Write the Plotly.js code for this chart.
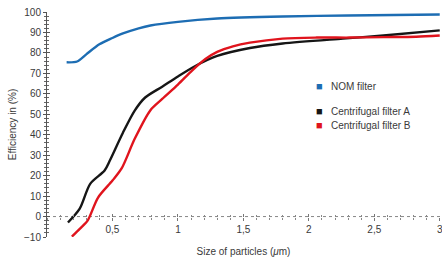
<!DOCTYPE html>
<html>
<head>
<meta charset="utf-8">
<script src="https://cdn.plot.ly/plotly-3.0.1.min.js"></script>
<style>html,body{margin:0;padding:0;background:#fff;}#chart{width:442px;height:261px;}</style>
</head>
<body>
<div id="chart"></div>
<script>
// Data
const seriesNames = ["NOM filter", "Centrifugal filter A", "Centrifugal filter B"];
const seriesColors = ["#1d6db3", "#161616", "#e0141d"];

const nomX = [0.15, 0.23, 0.30, 0.40, 0.50, 0.58, 0.70, 0.79, 1.00, 1.30, 1.80, 2.30, 3.00];
const nomY = [75.4, 75.8, 79.3, 84.2, 87.3, 89.5, 92.0, 93.4, 95.2, 96.8, 97.8, 98.3, 98.8];

const aX = [0.16, 0.25, 0.33, 0.44, 0.48, 0.58, 0.67, 0.75, 0.88, 1.00, 1.13, 1.30, 1.55, 1.80, 2.26, 2.57, 3.00];
const aY = [-2.9, 3.9, 16.0, 22.5, 27.4, 41.0, 51.8, 58.2, 63.5, 68.5, 73.5, 78.5, 82.4, 84.6, 87.0, 88.5, 91.0];

const bX = [0.19, 0.25, 0.31, 0.39, 0.50, 0.57, 0.67, 0.79, 0.88, 1.00, 1.11, 1.21, 1.30, 1.42, 1.55, 1.80, 2.06, 2.31, 2.57, 2.82, 3.00];
const bY = [-9.8, -6.0, -2.0, 9.3, 17.6, 23.5, 38.0, 52.0, 57.5, 64.5, 71.5, 77.0, 80.5, 83.2, 85.0, 87.0, 87.5, 87.5, 87.7, 87.9, 88.5];

const xTickVals = [0.5, 1, 1.5, 2, 2.5, 3];
const xTickText = ["0,5", "1", "1,5", "2", "2,5", "3"];
const yTickVals = [-10, 0, 10, 20, 30, 40, 50, 60, 70, 80, 90, 100];

const xRange = [0, 3.002];
const yRange = [-10, 100];
const zeroPos = (0 - yRange[0]) / (yRange[1] - yRange[0]);

const txtColor = "#3a3a3a";
const fontFam = "Liberation Sans, Arial, sans-serif";

const xs = [nomX, aX, bX], ys = [nomY, aY, bY];
const traces = xs.map((x, i) => ({
  x: x, y: ys[i], type: "scatter", mode: "lines", name: seriesNames[i],
  line: {color: seriesColors[i], width: 2.4, shape: "spline", smoothing: 0.8},
  showlegend: false, hoverinfo: "skip"
}));
// invisible trace to activate overlay axes
traces.push({x: [null], y: [null], xaxis: "x2", yaxis: "y2", showlegend: false, hoverinfo: "skip"});

const legendY = [0.671, 0.56, 0.498];
const annotations = seriesNames.map((n, i) => ({
  xref: "paper", yref: "paper", x: 0.68, y: legendY[i], xanchor: "left", yanchor: "middle",
  showarrow: false,
  text: '<span style="color:' + seriesColors[i] + ';font-size:11px">■</span>   ' + n,
  font: {family: fontFam, size: 10, color: txtColor}
}));

const layout = {
  width: 442, height: 261,
  margin: {l: 47, r: 2, t: 12, b: 24},
  paper_bgcolor: "#fff", plot_bgcolor: "#fff",
  font: {family: fontFam, size: 10, color: txtColor},
  showlegend: false,
  xaxis: {
    range: xRange, anchor: "free", position: zeroPos,
    showgrid: false, zeroline: false, showline: false,
    tickmode: "array", tickvals: xTickVals, ticktext: xTickText,
    ticklabeloverflow: "allow",
    ticks: "outside", ticklen: 3, tickwidth: 1, tickcolor: "#777",
    minor: {dtick: 0.1, tick0: 0, ticks: "outside", ticklen: 2, tickcolor: "#888", showgrid: false},
    tickfont: {size: 10, color: txtColor},
    title: {text: "Size of particles (<i>μ</i>m)", standoff: 14, font: {size: 10, color: txtColor}}
  },
  xaxis2: {
    range: xRange, overlaying: "x", anchor: "free", position: zeroPos,
    showgrid: false, zeroline: false, showline: false, showticklabels: false,
    tickmode: "array", tickvals: xTickVals,
    ticks: "inside", ticklen: 3, tickwidth: 1, tickcolor: "#777",
    minor: {dtick: 0.1, tick0: 0, ticks: "inside", ticklen: 2, tickcolor: "#888", showgrid: false}
  },
  yaxis: {
    range: yRange, showgrid: false, zeroline: false,
    showline: true, linecolor: "#555", linewidth: 1,
    tickmode: "array", tickvals: yTickVals,
    ticks: "outside", ticklen: 3, tickwidth: 1, tickcolor: "#555",
    minor: {dtick: 2, tick0: 0, ticks: "outside", ticklen: 2, tickcolor: "#666", showgrid: false},
    tickfont: {size: 10, color: txtColor},
    title: {text: "Efficiency in (%)", standoff: 5, font: {size: 10, color: txtColor}}
  },
  yaxis2: {
    range: yRange, overlaying: "y", anchor: "x", side: "left",
    showgrid: false, zeroline: false, showline: false, showticklabels: false,
    tickmode: "array", tickvals: yTickVals,
    ticks: "inside", ticklen: 3, tickwidth: 1, tickcolor: "#555",
    minor: {dtick: 2, tick0: 0, ticks: "inside", ticklen: 2, tickcolor: "#666", showgrid: false}
  },
  shapes: [{
    type: "line", xref: "paper", yref: "y", x0: 0, x1: 1, y0: 0, y1: 0,
    line: {color: "#888", width: 1, dash: "dot"}, layer: "below"
  }],
  annotations: annotations
};

Plotly.newPlot("chart", traces, layout, {displayModeBar: false, staticPlot: true});
</script>
</body>
</html>
